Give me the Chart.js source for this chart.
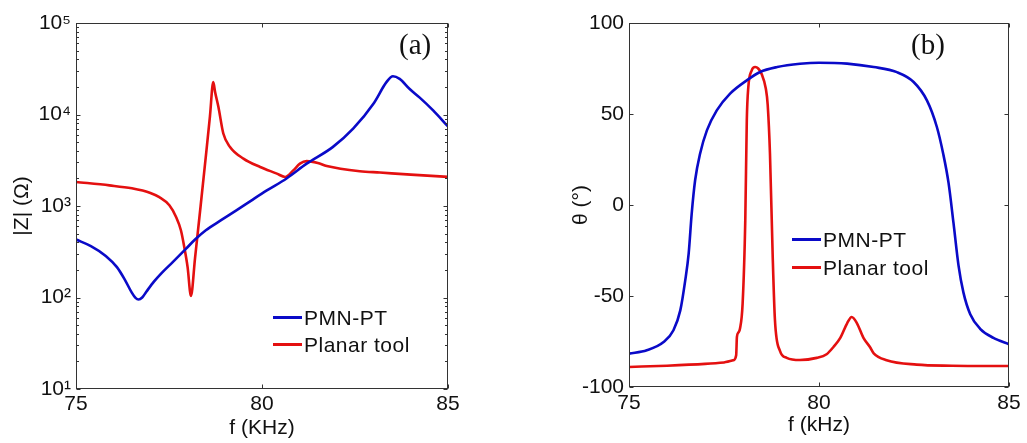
<!DOCTYPE html>
<html><head><meta charset="utf-8">
<script src="https://cdn.jsdelivr.net/npm/chart.js@4/dist/chart.umd.min.js"></script>
<style>
html,body{margin:0;padding:0;background:#fff;}
body{width:1027px;height:443px;position:relative;overflow:hidden;font-family:"Liberation Sans",Arial,sans-serif;}
#c1{position:absolute;left:0;top:0;}
#c2{position:absolute;left:507px;top:0;}
.panel{position:absolute;font-family:"Liberation Serif","Times New Roman",serif;font-size:29px;color:#111;line-height:1;}
.legend{position:absolute;font-size:21px;letter-spacing:0.5px;color:#111;line-height:1;}
.legend .row{display:flex;align-items:center;}
.legend .sw{width:29px;height:3px;margin-right:2px;}
</style></head>
<body>
<canvas id="c1" width="507" height="443"></canvas>
<canvas id="c2" width="520" height="443"></canvas>
<div class="panel" style="left:399px;top:30px">(a)</div>
<div class="panel" style="left:911px;top:30px">(b)</div>
<div class="legend" id="lg1" style="left:273px;top:304px"></div>
<div class="legend" id="lg2" style="left:792px;top:225px"></div>
<script>
// ---------- DATA ----------
const seriesNames = ['PMN-PT', 'Planar tool'];

// (a) |Z| (ohm) vs f (kHz)
const zFreqPmn = [75, 75.4, 75.8, 76.1, 76.3, 76.5, 76.6, 76.68, 76.78, 76.9, 77.1, 77.3, 77.6, 77.96, 78.2, 78.49, 78.9, 79.3, 79.7, 80.13, 80.66, 81.2, 81.9, 82.45, 83.0, 83.35, 83.52, 83.7, 83.97, 84.24, 84.6, 85];
const zPmn     = [430, 365, 285, 215, 160, 113, 99, 95, 100, 117, 150, 185, 244, 342, 430, 543, 700, 890, 1140, 1480, 2000, 2900, 4400, 7000, 13200, 22700, 26200, 24500, 19000, 15300, 11100, 7400];

const zFreqPlanar = [75, 75.9, 76.5, 77.0, 77.24, 77.51, 77.69, 77.82, 77.91, 78.0, 78.09, 78.2, 78.35, 78.5, 78.6, 78.69, 78.74, 78.83, 78.96, 79.14, 79.5, 79.95, 80.4, 80.62, 80.84, 81.02, 81.2, 81.5, 81.74, 82.63, 83.17, 84.0, 85];
const zPlanar     = [1830, 1680, 1560, 1390, 1250, 1020, 760, 543, 357, 215, 104, 270, 1000, 3800, 9500, 22600, 17500, 12000, 6200, 4420, 3300, 2670, 2260, 2075, 2450, 2900, 3090, 2950, 2735, 2400, 2320, 2200, 2080];

// (b) theta (deg) vs f (kHz)
const pFreqPmn = [75, 75.47, 75.91, 76.17, 76.35, 76.48, 76.57, 76.65, 76.74, 76.87, 77.05, 77.31, 77.66, 78.1, 78.45, 78.9, 79.5, 80.0, 80.74, 81.44, 82.05, 82.49, 82.84, 83.1, 83.27, 83.41, 83.54, 83.67, 83.8, 83.98, 84.24, 84.59, 85];
const pPmn     = [-81.7, -79.8, -75.3, -68.8, -57.9, -41.4, -26.7, -4.7, 13.6, 28.2, 41, 52, 61.2, 68.5, 73.1, 75.8, 77.6, 78.2, 77.7, 75.8, 73, 67.6, 57.5, 43, 28, 12, -10, -33, -48, -60, -68, -73, -76.5];

const pFreqPlanar = [75, 76, 77, 77.5, 77.75, 77.82, 77.84, 77.88, 77.92, 77.99, 78.06, 78.1, 78.14, 78.23, 78.32, 78.4, 78.49, 78.6, 78.65, 78.71, 78.78, 78.84, 78.97, 79.15, 79.5, 79.94, 80.2, 80.38, 80.56, 80.74, 80.86, 81.0, 81.17, 81.34, 81.44, 81.78, 82.57, 83.5, 85];
const pPlanar     = [-89, -88.3, -87.3, -86.5, -85.3, -82.6, -72.5, -70, -68, -54.2, -8.4, 46.5, 64.8, 74, 75.8, 75, 72, 64, 55, 28, -27, -63, -80, -84, -85.2, -84, -82, -78, -73, -65, -61.5, -65, -73, -78, -81.5, -85.3, -87.7, -88.3, -88.5];

const xTicks = [75, 80, 85];
const zTickValues = [10, 100, 1000, 10000, 100000];
const zTickLabels = ['10\u00B9', '10\u00B2', '10\u00B3', '10\u2074', '10\u2075'];
const pTickValues = [-100, -50, 0, 50, 100];

// ---------- STYLE ----------
const BLUE = '#0a0ac8';
const RED = '#e41010';
const TXT = '#111';
const tickFont = {family: '"Liberation Sans", Arial, sans-serif', size: 21};

const pts = (xs, ys) => xs.map((x, i) => ({x, y: ys[i]}));

const frame = {
  id: 'frame',
  afterDatasetsDraw(chart, args, opts) {
    const {ctx, chartArea: a, scales} = chart;
    const L = Math.round(a.left) + 0.5, R = Math.round(a.right) - 0.5, T = Math.round(a.top) + 0.5, B = Math.round(a.bottom) - 0.5;
    ctx.save();
    ctx.strokeStyle = '#333';
    ctx.lineWidth = 1;
    ctx.strokeRect(L, T, R - L, B - T);
    ctx.beginPath();
    const maj = 4, mnr = 2.5;
    scales.x.ticks.forEach(t => {
      const px = Math.round(scales.x.getPixelForValue(t.value)) + 0.5;
      ctx.moveTo(px, B); ctx.lineTo(px, B - maj);
      ctx.moveTo(px, T); ctx.lineTo(px, T + maj);
    });
    scales.y.ticks.forEach(t => {
      const py = Math.round(scales.y.getPixelForValue(t.value)) + 0.5;
      ctx.moveTo(L, py); ctx.lineTo(L + maj, py);
      ctx.moveTo(R, py); ctx.lineTo(R - maj, py);
    });
    if (opts.logMinor) {
      for (let d = 10; d < 100000; d *= 10) {
        for (let m = 2; m <= 9; m++) {
          const py = Math.round(scales.y.getPixelForValue(d * m)) + 0.5;
          ctx.moveTo(L, py); ctx.lineTo(L + mnr, py);
          ctx.moveTo(R, py); ctx.lineTo(R - mnr, py);
        }
      }
    }
    ctx.stroke();
    ctx.restore();
  }
};

function dataset(label, data, color) {
  return {label, data, borderColor: color, backgroundColor: color, borderWidth: 2.6,
    pointRadius: 0, fill: false, cubicInterpolationMode: 'monotone'};
}

function makeChart(id, cfg) {
  return new Chart(document.getElementById(id), {
    type: 'line',
    data: {datasets: cfg.datasets},
    plugins: [frame],
    options: {
      responsive: false,
      animation: false,
      layout: {padding: {top: 23, right: cfg.padRight, left: 0, bottom: 0}},
      plugins: {legend: {display: false}, tooltip: {enabled: false}, frame: {logMinor: cfg.logMinor}},
      scales: {
        x: {
          type: 'linear', min: 75, max: 85,
          afterBuildTicks: s => { s.ticks = xTicks.map(v => ({value: v})); },
          afterFit: s => { s.height = cfg.xHeight; },
          grid: {display: false, drawTicks: false},
          border: {display: false},
          ticks: {color: TXT, font: tickFont, padding: cfg.xTickPad, maxRotation: 0},
          title: {display: true, text: cfg.xTitle, color: TXT, font: tickFont, padding: {top: 0, bottom: cfg.xTitlePad}}
        },
        y: cfg.y
      }
    }
  });
}

const c1 = makeChart('c1', {
  padRight: 59, xHeight: 54, xTickPad: 3, xTitlePad: 2, xTitle: 'f (KHz)', logMinor: true,
  datasets: [dataset(seriesNames[0], pts(zFreqPmn, zPmn), BLUE), dataset(seriesNames[1], pts(zFreqPlanar, zPlanar), RED)],
  y: {
    type: 'logarithmic', min: 10, max: 100000,
    afterBuildTicks: s => { s.ticks = zTickValues.map(v => ({value: v})); },
    afterFit: s => { s.width = 76; },
    grid: {display: false, drawTicks: false},
    border: {display: false},
    ticks: {color: TXT, font: tickFont, padding: 5, callback: (v) => zTickLabels[zTickValues.indexOf(v)]},
    title: {display: true, text: '|Z| (\u03A9)', color: TXT, font: tickFont, padding: {top: 10, bottom: 0}}
  }
});

const c2 = makeChart('c2', {
  padRight: 18, xHeight: 56, xTickPad: 4, xTitlePad: 5, xTitle: 'f (kHz)', logMinor: false,
  datasets: [dataset(seriesNames[0], pts(pFreqPmn, pPmn), BLUE), dataset(seriesNames[1], pts(pFreqPlanar, pPlanar), RED)],
  y: {
    type: 'linear', min: -100, max: 100,
    afterBuildTicks: s => { s.ticks = pTickValues.map(v => ({value: v})); },
    afterFit: s => { s.width = 122; },
    grid: {display: false, drawTicks: false},
    border: {display: false},
    ticks: {color: TXT, font: tickFont, padding: 5},
    title: {display: true, text: '\u03B8 (\u00B0)', color: TXT, font: tickFont, padding: {top: 62, bottom: 0}}
  }
});

function buildLegend(chart, elId, rowH) {
  const el = document.getElementById(elId);
  chart.data.datasets.forEach(ds => {
    const row = document.createElement('div');
    row.className = 'row';
    row.style.height = rowH + 'px';
    const sw = document.createElement('span');
    sw.className = 'sw';
    sw.style.background = ds.borderColor;
    const tx = document.createElement('span');
    tx.textContent = ds.label;
    row.appendChild(sw); row.appendChild(tx);
    el.appendChild(row);
  });
}
buildLegend(c1, 'lg1', 27);
buildLegend(c2, 'lg2', 28);
</script>
</body></html>
